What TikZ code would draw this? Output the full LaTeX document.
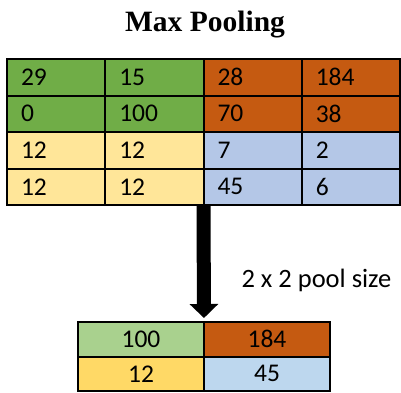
\documentclass[tikz,border=0pt]{standalone}
\usepackage{fontspec}
\setmainfont{Carlito}
\newfontfamily\titlefont{Liberation Serif}
\usetikzlibrary{arrows.meta,positioning}
\definecolor{cgreen}{HTML}{70AD47}
\definecolor{corange}{HTML}{C55A11}
\definecolor{cyellow}{HTML}{FFE699}
\definecolor{cblue}{HTML}{B4C7E7}
\definecolor{pgreen}{HTML}{A9D18E}
\definecolor{pyellow}{HTML}{FFD966}
\definecolor{pblue}{HTML}{BDD7EE}
\tikzset{
  cell/.style={draw=black,line width=2pt,outer sep=0pt,minimum width=98.25pt,minimum height=36.5pt,
    text width=70.25pt,inner xsep=14pt,inner ysep=0pt,align=left,font=\fontsize{25.5}{28}\selectfont},
  poolcell/.style={draw=black,line width=2pt,outer sep=0pt,minimum width=126pt,minimum height=34.5pt,
    inner ysep=0pt,font=\fontsize{25.5}{28}\selectfont},
}

\begin{document}
\begin{tikzpicture}[x=1pt,y=-1pt]
	\useasboundingbox (0,0) rectangle (401,392);
	\node[anchor=base,font=\titlefont\bfseries\fontsize{29.5}{32}\selectfont] (title) at (205,31) {Max Pooling};
	% input feature map
	\foreach \r/\cl/\cr/\a/\b/\c/\d in {0/cgreen/corange/29/15/28/184,1/cgreen/corange/0/100/70/38,
	                                   2/cyellow/cblue/12/12/7/2,3/cyellow/cblue/12/12/45/6}{
		\node[cell,fill=\cl] (c\r0) at (56.125,{59+36.5*(\r+0.5)}) {\a};
		\node[cell,fill=\cl,right=0pt of c\r0] (c\r1) {\b};
		\node[cell,fill=\cr,right=0pt of c\r1] (c\r2) {\c};
		\node[cell,fill=\cr,right=0pt of c\r2] (c\r3) {\d};
	}
	% pooled output
	\node[poolcell,fill=pgreen] (p00) at (141,339.25) {100};
	\node[poolcell,fill=corange,right=0pt of p00] (p01) {184};
	\node[poolcell,fill=pyellow,below=0pt of p00] (p10) {12};
	\node[poolcell,fill=pblue,right=0pt of p10] (p11) {45};
	\draw[line width=14pt,-{Triangle[width=28pt,length=14pt]},shorten >=4pt] (c31.south east) -- (p00.north east);
	\node[anchor=base west,font=\fontsize{26.5}{30}\selectfont] (size) at (238,287.5) {2 x 2 pool size};
\end{tikzpicture}
\end{document}
